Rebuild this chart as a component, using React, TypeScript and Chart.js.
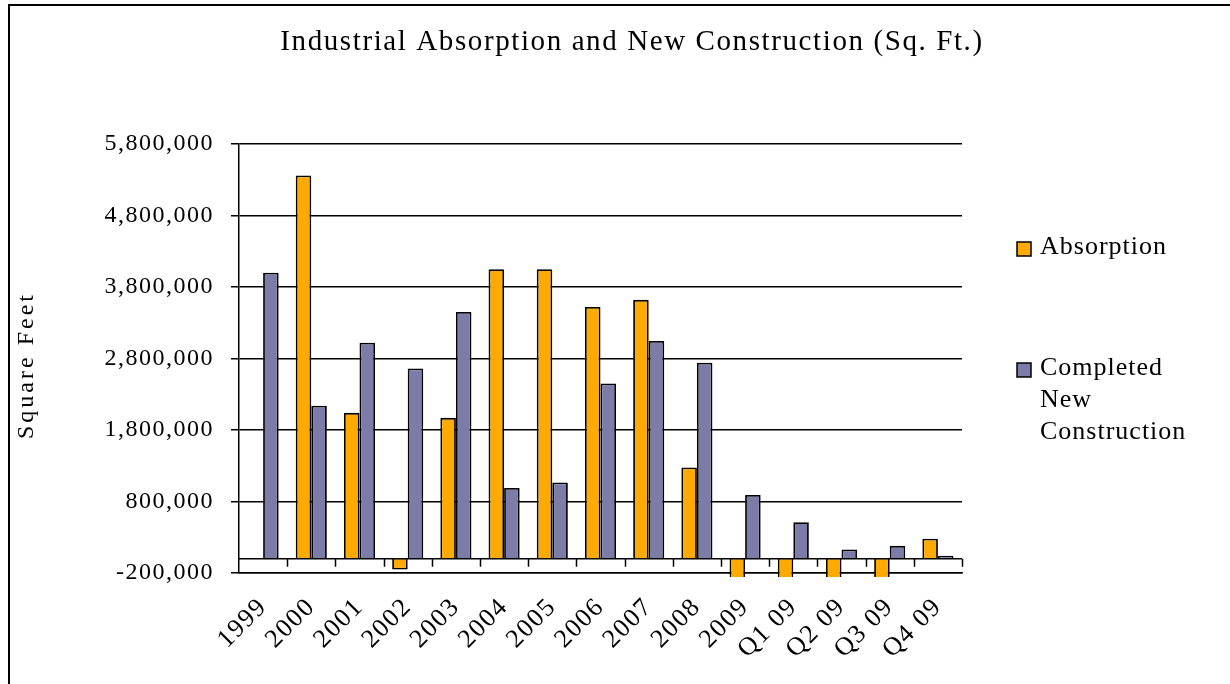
import React, { useEffect, useRef } from "react";
import { Chart, registerables } from "chart.js";

Chart.register(...registerables);

const categories = ["1999", "2000", "2001", "2002", "2003", "2004", "2005", "2006", "2007", "2008", "2009", "Q1 09", "Q2 09", "Q3 09", "Q4 09"];
const absorption = [null, 5360000, 2040000, -150000, 1970000, 4050000, 4050000, 3520000, 3620000, 1275000, -600000, -450000, -400000, -500000, 280000];
const completed = [4000000, 2140000, 3020000, 2660000, 3450000, 990000, 1065000, 2450000, 3045000, 2740000, 890000, 510000, 130000, 180000, 40000];
const yTicks = [-200000, 800000, 1800000, 2800000, 3800000, 4800000, 5800000];

const TITLE = "Industrial Absorption and New Construction (Sq. Ft.)";
const Y_TITLE = "Square Feet";
const LEGEND_LABELS = [["Absorption"], ["Completed", "New", "Construction"]];
const ORANGE = "#FFAA00";
const PURPLE = "#7B7CA8";
const FONT = "'Liberation Serif', 'Times New Roman', serif";
const TICK_SPACING = "1.5px";

const decorPlugin = {
  id: "decor",
  beforeLayout(chart: any) {
    (chart.ctx as any).letterSpacing = TICK_SPACING;
  },
  beforeDraw(chart: any) {
    const ctx = chart.ctx;
    ctx.save();
    ctx.fillStyle = "#fff";
    ctx.fillRect(0, 0, chart.width, chart.height);
    ctx.strokeStyle = "#000";
    ctx.lineWidth = 2;
    ctx.beginPath();
    ctx.moveTo(9, chart.height);
    ctx.lineTo(9, 5);
    ctx.lineTo(chart.width, 5);
    ctx.stroke();
    ctx.restore();
    (ctx as any).letterSpacing = TICK_SPACING;
  },
  afterDatasetsDraw(chart: any) {
    const { ctx, chartArea, scales } = chart;
    const x = scales.x;
    const y = scales.y;
    const y0 = y.getPixelForValue(0);
    ctx.save();
    ctx.strokeStyle = "#000";
    ctx.lineWidth = 1.5;
    ctx.beginPath();
    ctx.moveTo(chartArea.left, y0);
    ctx.lineTo(chartArea.right, y0);
    for (let i = 1; i <= categories.length; i++) {
      const xb = Math.round(x.getPixelForValue(i - 0.5)) + 0.5;
      ctx.moveTo(xb, y0);
      ctx.lineTo(xb, y0 + 8);
    }
    ctx.stroke();
    ctx.restore();
  },
  afterDraw(chart: any) {
    const ctx = chart.ctx;
    const { chartArea } = chart;
    ctx.save();
    ctx.fillStyle = "#000";
    // title
    (ctx as any).letterSpacing = "1.6px";
    ctx.font = `29px ${FONT}`;
    ctx.textAlign = "center";
    ctx.textBaseline = "middle";
    ctx.fillText(TITLE, 632, 42);
    // y title
    ctx.save();
    (ctx as any).letterSpacing = "3px";
    ctx.font = `24px ${FONT}`;
    ctx.translate(27, (chartArea.top + chartArea.bottom) / 2 + 7);
    ctx.rotate(-Math.PI / 2);
    ctx.fillText(Y_TITLE, 0, 0);
    ctx.restore();
    // legend
    (ctx as any).letterSpacing = "1px";
    ctx.font = `26px ${FONT}`;
    ctx.textAlign = "left";
    const ds = chart.data.datasets;
    const legendY = [249, 370];
    ds.forEach((d: any, i: number) => {
      const cy = legendY[i];
      ctx.fillStyle = d.backgroundColor;
      ctx.fillRect(1017, cy - 7, 14, 14);
      ctx.strokeStyle = "#000";
      ctx.lineWidth = 1.5;
      ctx.strokeRect(1017, cy - 7, 14, 14);
      ctx.fillStyle = "#000";
      LEGEND_LABELS[i].forEach((line, j) => {
        ctx.fillText(line, 1040, cy - 2 + j * 32);
      });
    });
    ctx.restore();
  },
};

export default function App() {
  const canvasRef = useRef<HTMLCanvasElement | null>(null);

  useEffect(() => {
    const canvas = canvasRef.current;
    if (!canvas) return;
    const chart = new Chart(canvas, {
      type: "bar",
      data: {
        labels: categories,
        datasets: [
          {
            label: LEGEND_LABELS[0].join(" "),
            data: absorption,
            backgroundColor: ORANGE,
            borderColor: "#000",
            borderWidth: 1.8,
            categoryPercentage: 0.645,
            barPercentage: 1,
            clip: { left: 5, top: 5, right: 5, bottom: 4 },
          },
          {
            label: LEGEND_LABELS[1].join(" "),
            data: completed,
            backgroundColor: PURPLE,
            borderColor: "#000",
            borderWidth: 1.8,
            categoryPercentage: 0.645,
            barPercentage: 1,
            clip: { left: 5, top: 5, right: 5, bottom: 4 },
          },
        ],
      },
      options: {
        responsive: false,
        animation: false,
        layout: { padding: { top: 144, right: 268, bottom: 0, left: 0 } },
        plugins: {
          legend: { display: false },
          title: { display: false },
          tooltip: { enabled: false },
        },
        scales: {
          x: {
            grid: { display: true, drawOnChartArea: false, drawTicks: false },
            border: { display: true, color: "#000", width: 1.5 },
            ticks: {
              autoSkip: false,
              minRotation: 45,
              maxRotation: 45,
              padding: 19,
              color: "#000",
              font: { family: FONT, size: 26 },
            },
            afterFit: (scale: any) => {
              scale.height = 111;
            },
          },
          y: {
            min: -200000,
            max: 5800000,
            afterBuildTicks: (scale: any) => {
              scale.ticks = yTicks.map((v) => ({ value: v }));
            },
            grid: { color: "#000", lineWidth: 1.5, tickLength: 8, drawTicks: true },
            border: { display: true, color: "#000", width: 1.5 },
            ticks: {
              padding: 17,
              color: "#000",
              font: { family: FONT, size: 24 },
              callback: (v: any) => Number(v).toLocaleString("en-US"),
            },
            afterFit: (scale: any) => {
              scale.width = 239;
            },
          },
        },
      },
      plugins: [decorPlugin],
    });
    return () => chart.destroy();
  }, []);

  return (
    <div style={{ position: "absolute", left: 0, top: 0, width: 1230, height: 684, background: "#fff" }}>
      <canvas ref={canvasRef} width={1230} height={684} style={{ display: "block" }} />
    </div>
  );
}
